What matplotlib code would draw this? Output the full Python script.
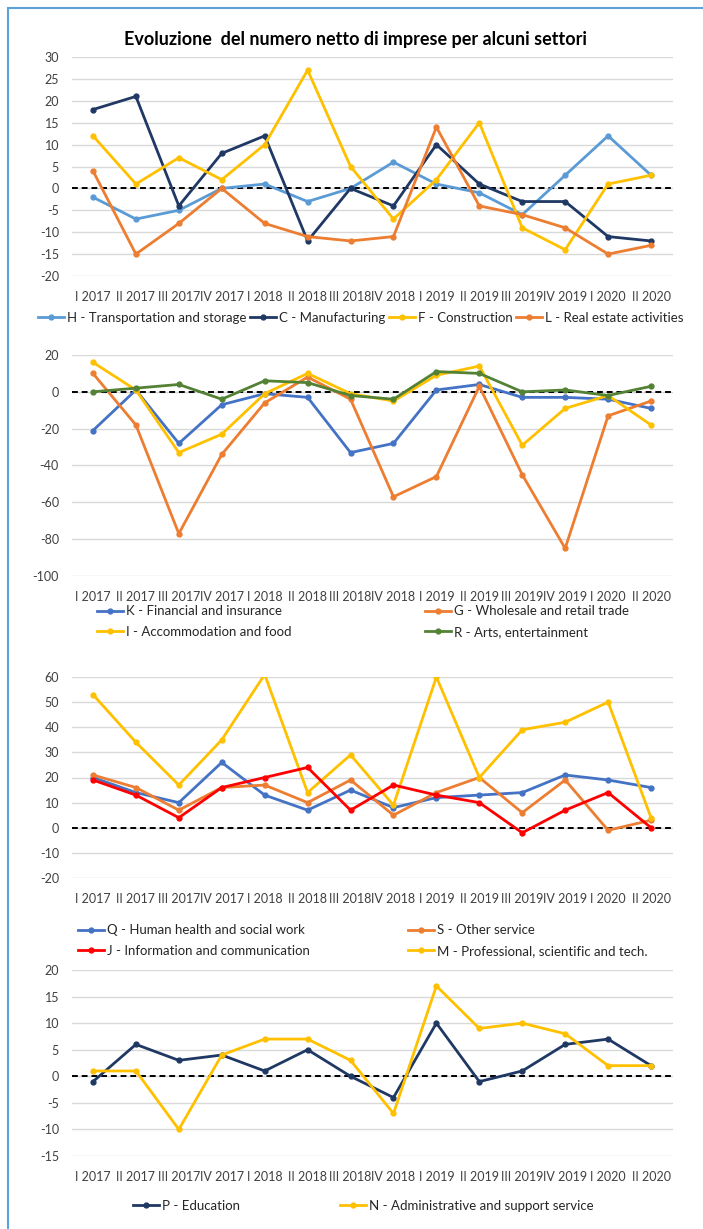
# -*- coding: utf-8 -*-
import matplotlib
matplotlib.use("Agg")
import matplotlib.pyplot as plt
from matplotlib.patches import Rectangle

plt.rcParams['font.family'] = ['Lato', 'DejaVu Sans']
plt.rcParams['axes.unicode_minus'] = False

# trimestri
quarters = ['I 2017', 'II 2017', 'III 2017', 'IV 2017', 'I 2018', 'II 2018', 'III 2018',
            'IV 2018', 'I 2019', 'II 2019', 'III 2019', 'IV 2019', 'I 2020', 'II 2020']

# pannello 1
h_transport = [-2, -7, -5, 0, 1, -3, 0, 6, 1, -1, -6, 3, 12, 3]
c_manufact = [18, 21, -4, 8, 12, -12, 0, -4, 10, 1, -3, -3, -11, -12]
f_construct = [12, 1, 7, 2, 10, 27, 5, -7, 2, 15, -9, -14, 1, 3]
l_realestate = [4, -15, -8, 0, -8, -11, -12, -11, 14, -4, -6, -9, -15, -13]

# pannello 2
k_financial = [-21, 1, -28, -7, -1, -3, -33, -28, 1, 4, -3, -3, -4, -9]
g_wholesale = [10, -18, -77, -34, -6, 8, -4, -57, -46, 3, -45, -85, -13, -5]
i_accommod = [16, 1, -33, -23, -1, 10, -1, -5, 9, 14, -29, -9, -2, -18]
r_arts = [0, 2, 4, -4, 6, 5, -2, -4, 11, 10, 0, 1, -2, 3]

# pannello 3
q_health = [20, 14, 10, 26, 13, 7, 15, 8, 12, 13, 14, 21, 19, 16]
s_other = [21, 16, 7, 16, 17, 10, 19, 5, 14, 20, 6, 19, -1, 3]
j_info = [19, 13, 4, 16, 20, 24, 7, 17, 13, 10, -2, 7, 14, 0]
m_prof = [53, 34, 17, 35, 61, 14, 29, 9, 60, 20, 39, 42, 50, 4]

# pannello 4
p_education = [-1, 6, 3, 4, 1, 5, 0, -4, 10, -1, 1, 6, 7, 2]
n_admin = [1, 1, -10, 4, 7, 7, 3, -7, 17, 9, 10, 8, 2, 2]

W, H = 703, 1229
fig = plt.figure(figsize=(W / 100, H / 100), dpi=100)

# cornice azzurra
fig.add_artist(Rectangle((8 / W, -0.1), 1.2, 1 - 8 / H + 0.1, transform=fig.transFigure,
                         fill=False, edgecolor='#5BA3DC', linewidth=1.5))


def px_axes(top, bottom):
    return fig.add_axes([71.5 / W, 1 - bottom / H, 601 / W, (bottom - top) / H])


def style(ax, ylim, step):
    ax.set_xlim(-0.5, len(quarters) - 0.5)
    ax.set_ylim(*ylim)
    ax.set_yticks(range(ylim[0], ylim[1] + 1, step))
    ax.set_xticks(range(len(quarters)))
    ax.set_xticklabels(quarters)
    for s in ax.spines.values():
        s.set_visible(False)
    ax.grid(axis='y', color='#D9D9D9', linewidth=1)
    ax.set_axisbelow(True)
    ax.tick_params(length=0, labelsize=9, labelcolor='#404040')
    ax.tick_params(axis='x', pad=11)
    ax.tick_params(axis='y', pad=9)
    ax.axhline(0, color='black', linestyle=(0, (3, 2)), linewidth=1.4, zorder=1.5)


def series(ax, y, color, label):
    return ax.plot(range(len(quarters)), y, color=color, linewidth=2, marker='o',
                   markersize=3.5, label=label, zorder=2)[0]


def legend(handles, x, y, ncol=1, spacing=0.5):
    fig.legend(handles=handles, loc='center left', bbox_to_anchor=(x / W, 1 - y / H),
               bbox_transform=fig.transFigure, ncol=ncol, frameon=False, fontsize=9.5,
               handlelength=2.0, handletextpad=0.2, columnspacing=spacing,
               borderpad=0, borderaxespad=0, labelspacing=0.65, labelcolor='#262626')


# pannello 1
ax1 = px_axes(57, 276)
style(ax1, (-20, 30), 5)
l1 = [series(ax1, h_transport, '#5B9BD5', 'H - Transportation and storage'),
      series(ax1, c_manufact, '#1F3864', 'C - Manufacturing'),
      series(ax1, f_construct, '#FFC000', 'F - Construction'),
      series(ax1, l_realestate, '#ED7D31', 'L - Real estate activities')]
fig.text(355 / W, 1 - 40 / H, 'Evoluzione  del numero netto di imprese per alcuni settori',
         ha='center', va='center', fontsize=13, fontweight='bold', color='black')
legend(l1, 38, 318, ncol=4, spacing=0.25)

# pannello 2
ax2 = px_axes(355, 576)
style(ax2, (-100, 20), 20)
l2 = [series(ax2, k_financial, '#4472C4', 'K - Financial and insurance'),
      series(ax2, g_wholesale, '#ED7D31', 'G - Wholesale and retail trade'),
      series(ax2, i_accommod, '#FFC000', 'I - Accommodation and food'),
      series(ax2, r_arts, '#548235', 'R - Arts, entertainment')]
legend([l2[0], l2[2]], 97, 621.5)
legend([l2[1], l2[3]], 425, 621.5)

# pannello 3
ax3 = px_axes(677, 878)
style(ax3, (-20, 60), 10)
l3 = [series(ax3, q_health, '#4472C4', 'Q - Human health and social work'),
      series(ax3, s_other, '#ED7D31', 'S - Other service'),
      series(ax3, m_prof, '#FFC000', 'M - Professional, scientific and tech.'),
      series(ax3, j_info, '#FF0000', 'J - Information and communication')]
legend([l3[0], l3[3]], 78, 940.5)
legend([l3[1], l3[2]], 408, 940.5)

# pannello 4
ax4 = px_axes(970, 1156)
style(ax4, (-15, 20), 5)
l4 = [series(ax4, p_education, '#1F3864', 'P - Education'),
      series(ax4, n_admin, '#FFC000', 'N - Administrative and support service')]
legend([l4[0]], 133, 1206)
legend([l4[1]], 340, 1206)

fig.savefig('out.png', dpi=100)
